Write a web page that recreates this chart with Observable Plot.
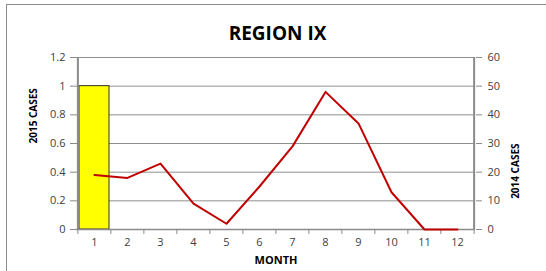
<!DOCTYPE html>
<html>
<head>
<meta charset="utf-8">
<script src="https://cdn.jsdelivr.net/npm/d3@7"></script>
<script src="https://cdn.jsdelivr.net/npm/@observablehq/plot@0.6"></script>
<style>
  html, body { margin: 0; padding: 0; background: #fff; }
  #wrap { position: relative; width: 546px; height: 271px; overflow: hidden; }
  #border { position: absolute; left: 6px; top: 4px; width: 600px; height: 400px;
            border-left: 1px solid #8c8c8c; border-top: 1px solid #8c8c8c; pointer-events: none; }
  svg { font-family: "Open Sans", sans-serif; }
</style>
</head>
<body>
<div id="wrap"><div id="border"></div></div>
<script>
const title = "REGION IX";
const months = [1, 2, 3, 4, 5, 6, 7, 8, 9, 10, 11, 12];
const cases2015 = [1, 0, 0, 0, 0, 0, 0, 0, 0, 0, 0, 0];
const cases2014 = [19, 18, 23, 9, 2, 15, 29, 48, 37, 13, 0, 0];
const leftTicks = [0, 0.2, 0.4, 0.6, 0.8, 1, 1.2];
const rightTicks = [0, 10, 20, 30, 40, 50, 60];
const leftLabel = "2015 CASES";
const rightLabel = "2014 CASES";
const xLabel = "MONTH";

const ratio = 1.2 / 60; // right axis -> left axis units
const barData = months.map((m, i) => ({month: m, value: cases2015[i]})).filter(d => d.value > 0);
const lineData = months.map((m, i) => ({month: m, value: cases2014[i] * ratio}));

const W = 546, H = 271;
const mL = 76, mR = 71, mT = 57, mB = 42;
const step = (W - mL - mR) / months.length;
const grid = "#8f8f8f";
const axisCol = "#8a8a8a";
const textCol = "#404040";

const chart = Plot.plot({
  width: W, height: H,
  marginLeft: mL, marginRight: mR, marginTop: mT, marginBottom: mB,
  style: {fontFamily: "'Open Sans', sans-serif", fontSize: "11px", color: textCol, background: "transparent"},
  x: {type: "band", domain: months, paddingInner: 0.1, paddingOuter: 0.05},
  y: {domain: [0, 1.2]},
  marks: [
    Plot.gridY(leftTicks, {stroke: grid, strokeOpacity: 1, strokeWidth: 1}),
    Plot.barY(barData, {x: "month", y: "value", fill: "#ffff00", stroke: "#333", strokeWidth: 1}),
    Plot.ruleY([0], {stroke: axisCol, strokeWidth: 1.5}),
    Plot.ruleX([months[0]], {x: d => d, dx: -step / 2, stroke: axisCol, strokeWidth: 2}),
    Plot.ruleX([months[months.length - 1]], {x: d => d, dx: step / 2, stroke: axisCol, strokeWidth: 2}),
    Plot.ruleX(months, {x: d => d, dx: -step / 2, y1: 0, y2: 0, insetBottom: -5, stroke: axisCol}),
    Plot.ruleX([months[months.length - 1]], {x: d => d, dx: step / 2, y1: 0, y2: 0, insetBottom: -5, stroke: axisCol}),
    Plot.lineY(lineData, {x: "month", y: "value", stroke: "#c00000", strokeWidth: 2}),
    Plot.axisX({tickSize: 0, tickPadding: 9, label: null, fill: textCol}),
    Plot.axisY(leftTicks, {anchor: "left", tickSize: 6, tickPadding: 5, stroke: axisCol,
      tickFormat: d => String(+d.toFixed(1)), label: null, fill: textCol}),
    Plot.axisY(leftTicks, {anchor: "right", tickSize: 6, tickPadding: 6, stroke: axisCol,
      tickFormat: (d, i) => String(rightTicks[i]), label: null, fill: textCol}),
    Plot.text([title], {frameAnchor: "top", dx: 1.5, dy: -31, fontSize: 19, fontWeight: "bold", fill: "#000"}),
    Plot.text([leftLabel], {frameAnchor: "left", dx: -43, dy: 0, rotate: -90, fontSize: 10, fontWeight: "bold", fill: "#000"}),
    Plot.text([rightLabel], {frameAnchor: "right", dx: 40, dy: 0, rotate: -90, fontSize: 10, fontWeight: "bold", fill: "#000"}),
    Plot.text([xLabel], {frameAnchor: "bottom", dx: 0, dy: 34, fontSize: 11, fontWeight: "bold", fill: "#000"})
  ]
});
document.getElementById("wrap").prepend(chart);
</script>
</body>
</html>
